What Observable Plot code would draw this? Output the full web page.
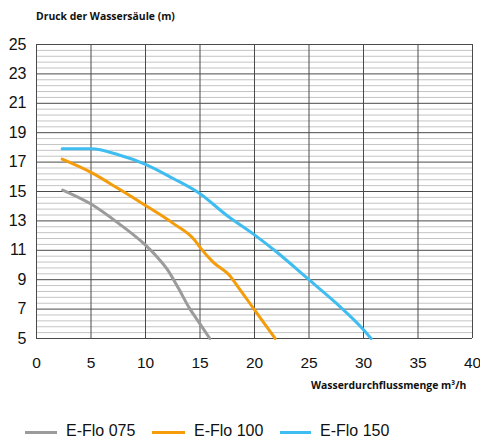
<!DOCTYPE html>
<html>
<head>
<meta charset="utf-8">
<script src="https://cdn.jsdelivr.net/npm/d3@7"></script>
<script src="https://cdn.jsdelivr.net/npm/@observablehq/plot@0.6"></script>
<style>
  html, body { margin: 0; padding: 0; background: #fff; }
  #wrap { position: relative; width: 480px; height: 439px; overflow: hidden; font-family: "Liberation Sans", Arial, sans-serif; }
  .bold { position: absolute; font-family: "Open Sans", sans-serif; font-weight: 700; font-size: 10.4px; color: #111; white-space: nowrap; }
  #chart { position: absolute; left: 0; top: 30px; }
  .leg { position: absolute; top: 422px; height: 18px; }
  .leg .sw { position: absolute; top: 9px; height: 3px; }
  .leg .lb { position: absolute; top: 0; font-size: 16px; line-height: 18px; color: #111; white-space: nowrap; }
</style>
</head>
<body>
<div id="wrap">
  <div class="bold" style="left:36px; top:9px;">Druck der Wassersäule (m)</div>
  <div id="chart"></div>
  <div class="bold" style="left:311px; top:378px;">Wasserdurchflussmenge m³/h</div>
  <div id="legend"></div>
</div>
<script>
// ---- data ----
const seriesNames = ["E-Flo 075", "E-Flo 100", "E-Flo 150"];
const seriesColors = ["#9b9b9b", "#f59c0b", "#3fbdf0"];
const flow075 = [2.4, 5, 7.5, 10, 11, 12, 13, 14, 15, 15.9];
const head075 = [15.1, 14.15, 12.85, 11.35, 10.6, 9.7, 8.45, 7.1, 6.0, 5.0];
const flow100 = [2.35, 5, 7.5, 10, 12.5, 14.5, 15, 16.2, 17.7, 18.5, 20, 21.9];
const head100 = [17.2, 16.3, 15.2, 14.05, 12.85, 11.7, 11.2, 10.2, 9.3, 8.5, 6.95, 5.0];
const flow150 = [2.35, 5, 7.5, 10, 12.5, 15, 17.5, 20, 22, 25, 27.5, 30, 30.7];
const head150 = [17.9, 17.9, 17.5, 16.85, 15.9, 14.85, 13.35, 12.05, 10.9, 9.0, 7.4, 5.6, 5.0];
const yTicks = [5, 7, 9, 11, 13, 15, 17, 19, 21, 23, 25];
const xTicks = [0, 5, 10, 15, 20, 25, 30, 35, 40];

const flows = [flow075, flow100, flow150];
const heads = [head075, head100, head150];
const rows = [];
seriesNames.forEach((name, i) => {
  flows[i].forEach((f, j) => rows.push({series: name, flow: f, head: heads[i][j]}));
});
const minorY = d3.range(0, 50).map(i => 5 + i * 0.4).filter(v => v < 25 && !yTicks.some(t => Math.abs(t - v) < 1e-6));

const chart = Plot.plot({
  width: 480,
  height: 365,
  marginLeft: 36,
  marginRight: 8,
  marginTop: 14,
  marginBottom: 57,
  style: {fontFamily: "'Liberation Sans', Arial, sans-serif", fontSize: "16px", color: "#111", background: "#fff"},
  x: {domain: [0, 40]},
  y: {domain: [5, 25]},
  color: {domain: seriesNames, range: seriesColors},
  marks: [
    Plot.ruleY(minorY, {stroke: "#c4c4c4", strokeWidth: 1}),
    Plot.ruleY(yTicks, {stroke: "#4a4a4a", strokeWidth: 1}),
    Plot.ruleX(xTicks, {stroke: "#4a4a4a", strokeWidth: 1}),
    Plot.line(rows, {x: "flow", y: "head", z: "series", stroke: "series", strokeWidth: 3, curve: "monotone-x"}),
    Plot.axisY({ticks: yTicks, tickSize: 0, tickPadding: 10, fontSize: 16, label: null}),
    Plot.axisX({ticks: xTicks, tickSize: 0, tickPadding: 18, fontSize: 15.5, label: null})
  ]
});
document.getElementById("chart").appendChild(chart);

// legend
const legendPos = [[25, 32, 66], [152, 33, 194], [280, 31, 320]];
const legend = document.getElementById("legend");
seriesNames.forEach((name, i) => {
  const [lx, lw, tx] = legendPos[i];
  const item = document.createElement("div");
  item.className = "leg";
  item.style.left = "0px";
  item.innerHTML = `<div class="sw" style="left:${lx}px;width:${lw}px;background:${seriesColors[i]}"></div><div class="lb" style="left:${tx}px">${name}</div>`;
  legend.appendChild(item);
});
</script>
</body>
</html>
